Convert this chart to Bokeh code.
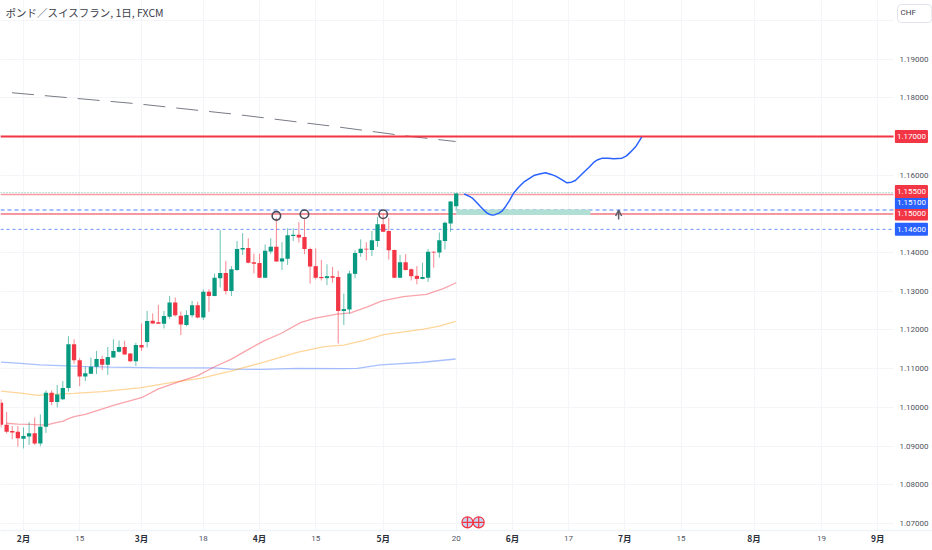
from bokeh.plotting import figure
from bokeh.models import (ColumnDataSource, FixedTicker, Label, Range1d, PrintfTickFormatter,
                          Arrow, OpenHead, LinearAxis)
from bokeh.embed import file_html
from bokeh.resources import INLINE

TITLE = "ポンド／スイスフラン, 1日, FXCM"
opens = [1.1012,1.0955,1.0939,1.0937,1.0919,1.0925,1.0933,1.0907,1.0950,1.1038,1.1014,1.1021,1.1050,1.1163,1.1122,1.1080,1.1087,1.1105,1.1125,1.1110,
         1.1129,1.1144,1.1156,1.1139,1.1119,1.1161,1.1169,1.1224,1.1220,1.1216,1.1234,1.1271,1.1237,1.1213,1.1238,1.1264,1.1232,1.1299,1.1288,1.1334,
         1.1347,1.1301,1.1355,1.1408,1.1412,1.1375,1.1373,1.1335,1.1403,1.1415,1.1377,1.1384,1.1443,1.1446,1.1440,1.1409,1.1365,1.1337,1.1334,1.1339,
         1.1337,1.1249,1.1253,1.1345,1.1399,1.1410,1.1407,1.1430,1.1473,1.1456,1.1407,1.1335,1.1375,1.1357,1.1340,1.1332,1.1335,1.1402,1.1400,1.1430,
         1.1475,1.1520]
highs = [1.1021,1.0988,1.0952,1.0952,1.0948,1.0962,1.0974,1.0982,1.1044,1.1044,1.1058,1.1068,1.1184,1.1176,1.1127,1.1106,1.1129,1.1146,1.1133,1.1156,
         1.1176,1.1173,1.1172,1.1140,1.1167,1.1217,1.1249,1.1243,1.1265,1.1249,1.1288,1.1284,1.1248,1.1251,1.1275,1.1273,1.1305,1.1305,1.1346,1.1458,
         1.1378,1.1365,1.1430,1.1450,1.1437,1.1397,1.1397,1.1421,1.1437,1.1490,1.1427,1.1463,1.1463,1.1479,1.1486,1.1413,1.1411,1.1381,1.1370,1.1363,
         1.1353,1.1294,1.1353,1.1406,1.1434,1.1427,1.1456,1.1492,1.1499,1.1490,1.1408,1.1394,1.1396,1.1359,1.1365,1.1374,1.1409,1.1403,1.1452,1.1480,
         1.1533,1.1554]
lows = [1.0948,1.0933,1.0918,1.0899,1.0894,1.0903,1.0903,1.0900,1.0934,1.1006,1.1000,1.1019,1.1041,1.1113,1.1055,1.1068,1.1086,1.1086,1.1096,1.1084,
        1.1128,1.1142,1.1136,1.1117,1.1107,1.1146,1.1155,1.1216,1.1215,1.1204,1.1229,1.1235,1.1187,1.1210,1.1232,1.1230,1.1226,1.1247,1.1287,1.1310,
        1.1292,1.1288,1.1353,1.1394,1.1372,1.1346,1.1334,1.1334,1.1397,1.1376,1.1355,1.1368,1.1430,1.1426,1.1396,1.1320,1.1331,1.1328,1.1316,1.1322,
        1.1165,1.1213,1.1242,1.1334,1.1389,1.1380,1.1391,1.1415,1.1453,1.1382,1.1334,1.1334,1.1354,1.1328,1.1318,1.1331,1.1324,1.1361,1.1387,1.1408,
        1.1454,1.1512]
closes = [1.0955,1.0937,1.0935,1.0920,1.0926,1.0933,1.0907,1.0950,1.1038,1.1014,1.1033,1.1050,1.1163,1.1122,1.1080,1.1088,1.1105,1.1125,1.1110,1.1130,
          1.1146,1.1156,1.1137,1.1119,1.1161,1.1155,1.1223,1.1217,1.1216,1.1236,1.1271,1.1238,1.1214,1.1239,1.1264,1.1232,1.1299,1.1288,1.1335,1.1347,
          1.1301,1.1357,1.1409,1.1412,1.1374,1.1371,1.1335,1.1405,1.1415,1.1377,1.1385,1.1445,1.1446,1.1439,1.1409,1.1364,1.1335,1.1334,1.1339,1.1335,
          1.1249,1.1254,1.1346,1.1399,1.1410,1.1408,1.1432,1.1473,1.1454,1.1406,1.1335,1.1375,1.1355,1.1339,1.1332,1.1337,1.1402,1.1400,1.1432,1.1477,
          1.1532,1.1553]

ma_red_i = [1,3,5,8,10,11,12,13,15,20,25,28,32,35,38,40.9,43.8,46.8,49.8,53.3,55.7,59.8,62.2,65.2,67.8,71.6,75.7,78.7,81]
ma_red_v = [1.0959,1.0957,1.0956,1.0954,1.0961,1.0964,1.0971,1.0976,1.0982,1.1005,1.1025,1.1048,1.1068,1.1082,1.1105,1.1124,1.1148,1.1172,1.1191,1.1219,1.1230,1.1241,1.1244,1.1260,1.1275,1.1286,1.1292,1.1307,1.1322]
ma_org_i = [0,3.5,6.5,8,13,18,25,31,35.5,40.9,46.8,52.7,57.5,61,64.6,68.1,75.2,78,80.9]
ma_org_v = [1.1042,1.1037,1.1031,1.1033,1.1036,1.1041,1.1051,1.1066,1.1075,1.1094,1.1117,1.1142,1.1157,1.1161,1.1173,1.1188,1.1202,1.1210,1.1222]
ma_blu_i = [0,3.5,7,14,19.5,28.4,38,40.9,46.8,52.7,61,63.4,67.5,74.6,80.9]
ma_blu_v = [1.1117,1.1114,1.1110,1.1106,1.1104,1.1102,1.1102,1.1099,1.1098,1.1101,1.1100,1.1101,1.1110,1.1116,1.1125]
trend_i = [1.95,23.9,41.9,59.8,71.7,80.9]
trend_v = [1.1813,1.1785,1.1757,1.1725,1.1702,1.1687]
path_i = [82.4,83.1,83.9,84.6,85.3,85.9,86.5,86.9,87.4,87.9,88.6,89.2,89.8,90.5,91.2,92.1,93.0,94.8,95.8,96.9,97.9,98.7,99.7,100.7,101.5,102.2,103.7,104.6,105.5,106.2,107,108,109,110.5,111.3,112,113,114]
path_v = [1.15519,1.1547,1.15407,1.1530,1.15192,1.1510,1.15019,1.1499,1.14968,1.1498,1.15019,1.1508,1.15192,1.1535,1.15536,1.1569,1.15820,1.15992,1.1603,1.16061,1.1602,1.15975,1.1589,1.15803,1.1582,1.15863,1.16078,1.1620,1.16337,1.1640,1.16440,1.1644,1.16423,1.16440,1.1650,1.16595,1.1675,1.16982]
circle_i = [49,54,68]
circle_v = [1.1495,1.1499,1.1499]

price_ticks = [1.07,1.08,1.09,1.10,1.11,1.12,1.13,1.14,1.16,1.18,1.19]
grid_prices = [1.07,1.08,1.09,1.10,1.11,1.12,1.13,1.14,1.15,1.16,1.17,1.18,1.19,1.20]
date_ticks = [4,14,25,36,46,56,68,81,91,101,111,121,134,146,156]
date_labels = ["2月","15","3月","18","4月","15","5月","20","6月","17","7月","15","8月","19","9月"]

GREEN, RED, BLUE = "#089981", "#f23645", "#2962ff"
FONT = "Roboto"

x_lo = -0.09
x_axis_end = 158.8
x_hi = 165.75
y_lo = 1.06819
y_hi = 1.20514

p = figure(frame_width=932, frame_height=530, min_border_left=0, min_border_top=0,
           min_border_right=0, min_border_bottom=20, x_range=Range1d(x_lo, x_hi), y_range=Range1d(y_lo, y_hi),
           y_axis_location="right", output_backend="svg", toolbar_location=None, outline_line_color=None)

p.xaxis.ticker = FixedTicker(ticks=[t for t, l in zip(date_ticks, date_labels) if "月" not in l])
p.xaxis.major_label_overrides = {t: l for t, l in zip(date_ticks, date_labels) if "月" not in l}
p.xaxis.axis_line_color = "#f0f3fa"
p.xaxis.axis_line_width = 1.5
p.xaxis.major_tick_line_color = None
p.xaxis.minor_tick_line_color = None
p.xaxis.major_label_text_font = FONT
p.xaxis.major_label_text_font_size = "8px"
p.xaxis.major_label_text_color = "#50535e"
p.xaxis.major_label_standoff = -1

month_axis = LinearAxis(ticker=FixedTicker(ticks=[t for t, l in zip(date_ticks, date_labels) if "月" in l]),
                        major_label_overrides={t: l for t, l in zip(date_ticks, date_labels) if "月" in l},
                        axis_line_color=None, major_tick_line_color=None, minor_tick_line_color=None,
                        major_label_text_font="Noto Sans CJK JP", major_label_text_font_size="8.5px",
                        major_label_text_font_style="bold", major_label_text_color="#2a2e39",
                        major_label_standoff=-18)
p.add_layout(month_axis, "below")

p.yaxis.ticker = FixedTicker(ticks=price_ticks)
p.yaxis.formatter = PrintfTickFormatter(format="%.5f")
p.yaxis.axis_line_color = None
p.yaxis.major_tick_line_color = None
p.yaxis.minor_tick_line_color = None
p.yaxis.major_label_text_font = FONT
p.yaxis.major_label_text_font_size = "8px"
p.yaxis.major_label_text_color = "#50535e"
p.yaxis.major_label_standoff = -39

p.xgrid.ticker = FixedTicker(ticks=date_ticks)
p.ygrid.ticker = FixedTicker(ticks=grid_prices)
p.xgrid.grid_line_color = "#f4f5f8"
p.ygrid.grid_line_color = "#f4f5f8"

p.quad(left=[x_axis_end], right=[x_hi], bottom=[y_lo], top=[y_hi], fill_color="#ffffff", line_color=None)

def level(price, color, width, alpha, dash="solid"):
    p.segment([x_lo], [price], [x_axis_end], [price], line_color=color, line_width=width, line_alpha=alpha, line_dash=dash)

level(1.1555, GREEN, 1, 0.6, "1 2")
level(1.155, RED, 1.5, 0.5)
level(1.151, BLUE, 1.5, 0.55, "4 3")
level(1.15, RED, 2, 0.5)
level(1.146, BLUE, 1, 0.7, "3 3")

p.line(ma_blu_i, ma_blu_v, line_color=BLUE, line_alpha=0.4, line_width=1.3)
p.line(ma_org_i, ma_org_v, line_color="#ff9800", line_alpha=0.4, line_width=1.3)
p.line(ma_red_i, ma_red_v, line_color=RED, line_alpha=0.45, line_width=1.3)

idx = list(range(len(opens)))
colors = [GREEN if c >= o else RED for o, c in zip(opens, closes)]
src = ColumnDataSource(dict(x=idx, o=opens, h=highs, l=lows, c=closes, color=colors,
                            top=[max(a, b) for a, b in zip(opens, closes)],
                            bot=[min(a, b) for a, b in zip(opens, closes)]))
p.segment("x", "h", "x", "l", source=src, line_color="color", line_width=1, line_alpha=0.6)
p.vbar("x", 0.76, "bot", "top", source=src, fill_color="color", line_color=None)

p.line(trend_i, trend_v, line_color="#787b86", line_width=1, line_dash="22 11")
level(1.17, RED, 3, 0.35)
level(1.17, RED, 1.6, 1)
p.quad(left=[81], right=[104.9], bottom=[1.1497], top=[1.15115], fill_color="#b2dfd3", line_color=None)
p.line(path_i, path_v, line_color=BLUE, line_width=1.5)
p.scatter(circle_i, circle_v, marker="circle", size=8.5, fill_color=None, line_color="#4a4e5a", line_width=1.6)
p.add_layout(Arrow(end=OpenHead(size=6, line_color="#5d606b", line_width=1.5), x_start=109.9, y_start=1.14855,
                   x_end=109.9, y_end=1.1510, line_color="#5d606b", line_width=1.5))
p.scatter([83, 85], [1.0703, 1.0703], marker="circle_cross", size=11, fill_color="#c9d4f2",
          line_color=RED, line_width=1.2)

LX = 162.0
for price, text, col, off in [(1.15, "1.15000", RED, 0), (1.146, "1.14600", BLUE, 0), (1.151, "1.15100", BLUE, 7.5),
                              (1.155, "1.15500", RED, 3), (1.17, "1.17000", RED, 0)]:
    p.add_layout(Label(x=LX, y=price, y_offset=off, text=text, text_align="center", text_baseline="middle",
                       text_font=FONT, text_font_size="8px", text_color="#ffffff", background_fill_color=col,
                       padding=(2, 4), border_radius=1, level="overlay"))

p.add_layout(Label(x=5, y=518, x_units="screen", y_units="screen", text=TITLE, text_font="Noto Sans CJK JP",
                   text_font_size="10.5px", text_color="#3c404c", text_baseline="middle", level="overlay"))
p.add_layout(Label(x=897, y=517, x_units="screen", y_units="screen", text="CHF", text_font=FONT,
                   text_font_size="8px", text_color="#3c404c", text_baseline="middle",
                   border_line_color="#e0e3eb", border_radius=4, padding=(3, 16, 3, 6), level="overlay"))

open("out.html", "w").write(file_html(p, INLINE))
